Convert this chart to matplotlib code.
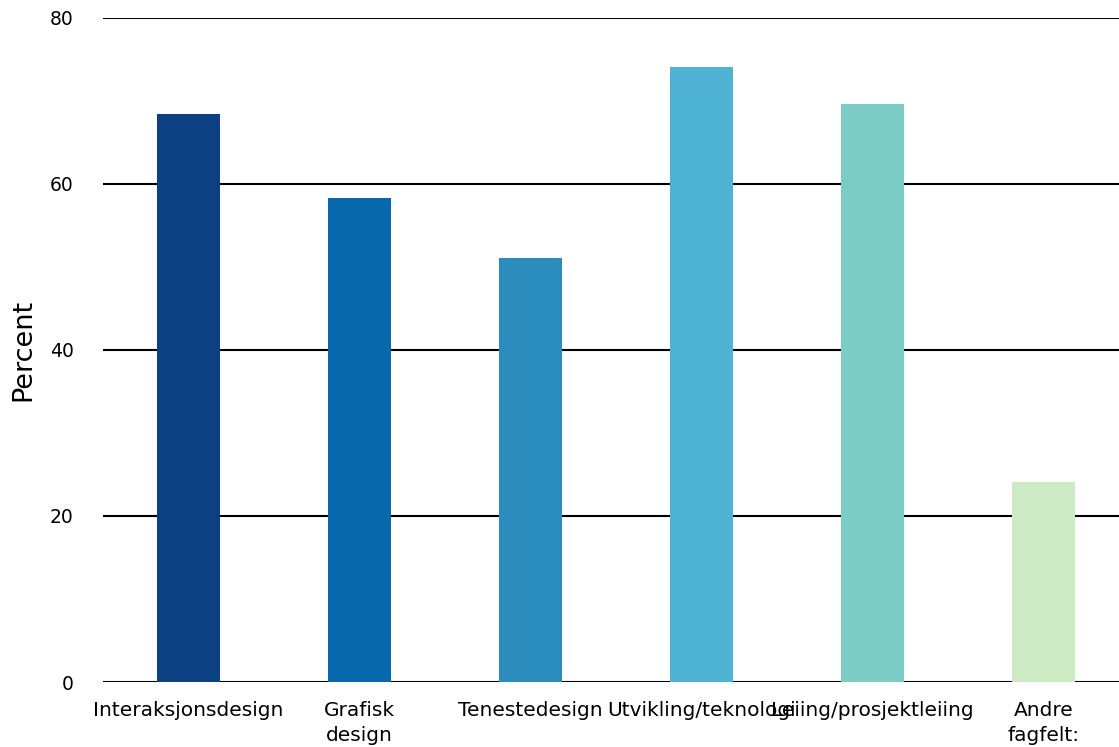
import matplotlib.pyplot as plt

categories = ["Interaksjonsdesign", "Grafisk\ndesign", "Tenestedesign",
              "Utvikling/teknologi", "Leiing/prosjektleiing", "Andre\nfagfelt:"]
values = [68.4, 58.3, 51.1, 74.1, 69.6, 24.1]
colors = ["#0b4083", "#0868ac", "#2b8cbe", "#4eb3d3", "#7bccc4", "#ccebc5"]
yticks = [0, 20, 40, 60, 80]

plt.rcParams['font.family'] = ['DejaVu Sans']

fig = plt.figure(figsize=(11.19, 7.47), dpi=100)
ax = fig.add_axes([0.092, 0.087, 0.908, 0.889])

x = list(range(len(categories)))
ax.bar(x, values, width=0.37, color=colors, zorder=3)

ax.set_ylim(0, 80)
ax.set_xlim(-0.5, 5.44)
ax.set_yticks(yticks)
ax.set_xticks(x)
ax.set_xticklabels(categories, fontsize=14.5, linespacing=1.4)
ax.tick_params(axis='y', labelsize=13.5, length=0, pad=21)
ax.tick_params(axis='x', length=0, pad=14)
ax.grid(axis='y', color='black', linewidth=1.5, zorder=1)
for s in ax.spines.values():
    s.set_visible(False)
ax.set_ylabel("Percent", fontsize=19.5, labelpad=10)

fig.savefig("out.png", dpi=100)
